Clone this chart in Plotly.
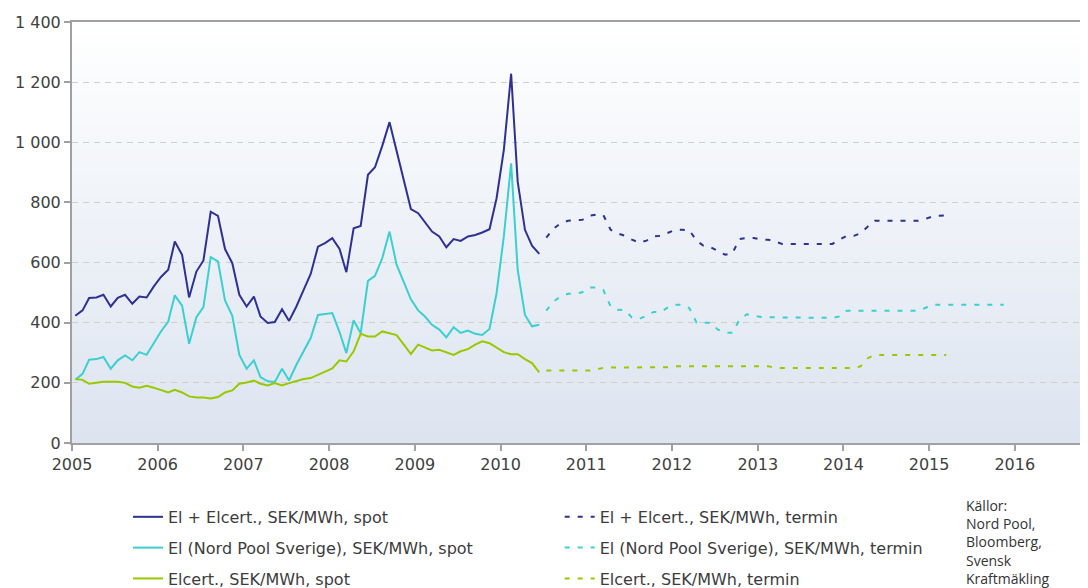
import pandas as pd
import plotly.graph_objects as go

# ---------------- data ----------------
el_elcert_spot = [423, 441, 482, 484, 493, 454, 483, 493, 463, 487,
                  484, 520, 552, 576, 670, 626, 484, 570, 607, 769,
                  755, 645, 598, 493, 454, 487, 421, 399, 402, 445,
                  406, 454, 509, 562, 653, 665, 681, 645, 568, 714,
                  722, 892, 917, 988, 1067, 969, 869, 778, 764, 733,
                  703, 687, 651, 678, 672, 687, 692, 700, 711, 814,
                  975, 1228, 869, 709, 656, 629]
el_spot = [210, 230, 277, 279, 286, 247, 275, 291, 275, 302,
           293, 332, 371, 404, 491, 457, 330, 418, 452, 618,
           604, 474, 423, 293, 247, 275, 219, 205, 203, 247,
           208, 260, 305, 349, 426, 429, 432, 369, 299, 408,
           365, 539, 556, 615, 703, 593, 534, 478, 441, 419,
           393, 377, 351, 385, 366, 374, 363, 359, 379, 498,
           687, 930, 576, 426, 388, 393]
elcert_spot = [213, 210, 197, 200, 204, 204, 204, 200, 188, 184,
               190, 184, 177, 168, 177, 168, 155, 151, 151, 148,
               153, 168, 175, 197, 201, 208, 197, 191, 199, 191,
               199, 205, 213, 216, 227, 235, 248, 275, 271, 305,
               363, 354, 354, 371, 366, 359, 327, 296, 327, 316,
               308, 310, 301, 293, 305, 312, 327, 338, 332, 316,
               302, 295, 295, 279, 266, 235]

el_elcert_termin = [683, 713, 731, 739, 741, 742, 756, 760, 758, 709,
                    697, 689, 676, 666, 673, 687, 689, 698, 709, 709,
                    708, 673, 656, 651, 639, 626, 631, 678, 682, 682,
                    676, 676, 670, 662, 662, 662, 662, 662, 662, 662,
                    662, 676, 689, 689, 698, 720, 739, 739, 739, 739,
                    739, 739, 739, 745, 753, 756, 757]
el_termin = [440, 471, 487, 496, 496, 501, 517, 517, 509, 454,
             443, 442, 417, 413, 423, 436, 436, 451, 460, 460,
             449, 401, 400, 400, 377, 367, 367, 410, 428, 424,
             419, 418, 418, 416, 416, 416, 416, 416, 416, 416,
             416, 421, 440, 440, 440, 440, 440, 440, 440, 440,
             440, 440, 440, 449, 460, 460, 460, 460, 460, 460,
             460, 460, 460, 460, 460]
elcert_termin = [241, 241, 241, 241, 241, 241, 241, 245, 250, 251,
                 251, 251, 251, 251, 251, 251, 251, 252, 255, 255,
                 255, 255, 255, 255, 255, 255, 255, 255, 255, 255,
                 255, 255, 250, 249, 249, 249, 249, 249, 249, 249,
                 249, 249, 249, 249, 255, 282, 293, 293, 293, 293,
                 293, 293, 293, 293, 293, 293, 293]

spot_first_month = "2005-01-01"
termin_first_month = "2010-07-01"

names_spot = ["El + Elcert., SEK/MWh, spot",
              "El (Nord Pool Sverige), SEK/MWh, spot",
              "Elcert., SEK/MWh, spot"]
names_termin = ["El + Elcert., SEK/MWh, termin",
                "El (Nord Pool Sverige), SEK/MWh, termin",
                "Elcert., SEK/MWh, termin"]
colors = ["#2e3192", "#3ccfcf", "#9ac800"]

y_ticks = [0, 200, 400, 600, 800, 1000, 1200, 1400]
source_text = "Källor:<br>Nord Pool,<br>Bloomberg,<br>Svensk<br>Kraftmäkling"


def mid_months(first, n):
    return pd.date_range(first, periods=n, freq="MS") + pd.Timedelta(days=14)


fig = go.Figure()

spot_series = [el_elcert_spot, el_spot, elcert_spot]
term_series = [el_elcert_termin, el_termin, elcert_termin]

for k in range(3):
    s = spot_series[k]
    fig.add_trace(go.Scatter(
        x=mid_months(spot_first_month, len(s)),
        y=s, mode="lines", name=names_spot[k],
        line=dict(color=colors[k], width=2),
        legend="legend", legendgroup="s%d" % k, hoverinfo="skip"))
for k in range(3):
    t = term_series[k]
    fig.add_trace(go.Scatter(
        x=mid_months(termin_first_month, len(t)),
        y=t, mode="lines", name=names_termin[k],
        line=dict(color=colors[k], width=2, dash="5px,8px"),
        legend="legend2", legendgroup="t%d" % k, hoverinfo="skip"))

# gradient background strips
N = 70
top = (255, 255, 255)
bot = (220, 228, 240)
shapes = []
for j in range(N):
    f = j / (N - 1)
    c = tuple(round(top[m] + (bot[m] - top[m]) * f) for m in range(3))
    y1 = 1 - j / N
    y0 = 1 - (j + 1) / N - 0.004
    shapes.append(dict(type="rect", xref="paper", yref="paper",
                       x0=0, x1=1, y0=max(y0, 0), y1=y1,
                       fillcolor="rgb(%d,%d,%d)" % c,
                       line=dict(width=0), layer="below"))

legend_common = dict(orientation="v", bgcolor="rgba(0,0,0,0)",
                     font=dict(family="DejaVu Sans", size=16, color="#3c3c3c"),
                     tracegroupgap=7, yanchor="top", xanchor="left",
                     traceorder="grouped")

tick_font = dict(family="DejaVu Sans", size=16, color="#404040")

fig.update_layout(
    width=1080, height=600,
    margin=dict(l=64, r=0, t=14, b=165),
    paper_bgcolor="white",
    plot_bgcolor="rgba(0,0,0,0)",
    separators=", ",
    shapes=shapes,
    showlegend=True,
    legend=dict(x=0.0551, y=-0.1352, **legend_common),
    legend2=dict(x=0.480, y=-0.1352, **legend_common),
    xaxis=dict(
        type="date",
        range=["2005-01-01", "2016-11-08"],
        tick0="2005-01-01", dtick="M12", tickformat="%Y",
        showgrid=False, zeroline=False,
        showline=True, linecolor="#a0a0a0", linewidth=2, mirror=True,
        ticks="outside", ticklen=6, tickcolor="#a0a0a0", tickwidth=2,
        tickfont=tick_font,
    ),
    yaxis=dict(
        range=[0, 1400], tickvals=y_ticks, tickformat=",d",
        showgrid=True, gridcolor="#cfcfcf", gridwidth=1, griddash="6px,5px",
        zeroline=False,
        showline=True, linecolor="#a0a0a0", linewidth=2,
        ticks="outside", ticklen=6, tickcolor="#a0a0a0", tickwidth=2,
        tickfont=tick_font,
    ),
    annotations=[dict(
        text=source_text, xref="paper", yref="paper",
        x=(964 - 72) / 1016, y=-0.121, xanchor="left", yanchor="top",
        align="left", showarrow=False,
        font=dict(family="Open Sans", size=14, color="#333333"),
    )],
)

fig.write_html("out.html")
